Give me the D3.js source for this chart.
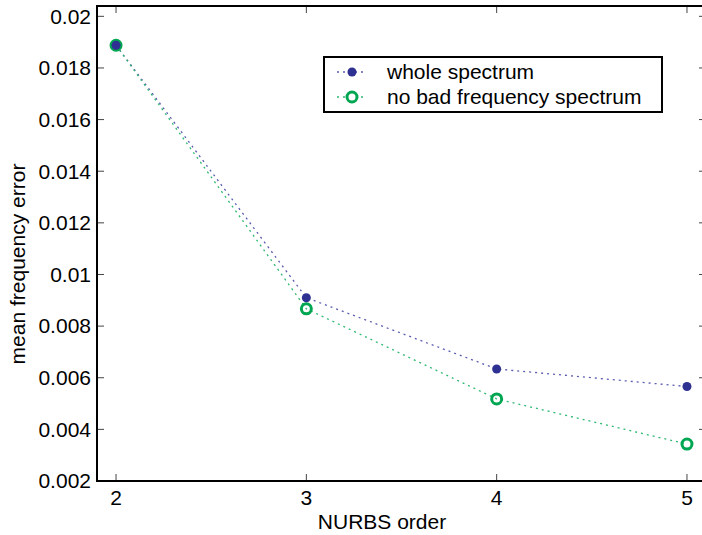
<!DOCTYPE html>
<meta charset="utf-8">
<style>
body { margin: 0; background: white; }
text { font-family: "Liberation Sans", Arial, Helvetica, sans-serif; fill: black; }
</style>
<body>
<script src="https://d3js.org/d3.v7.min.js"></script>
<script>

const width = 702
const height = 535

// chart values
const orders = [2, 3, 4, 5]
const wholeSpectrum = [0.01888, 0.00910, 0.00634, 0.00566]
const noBadSpectrum = [0.01888, 0.00867, 0.00518, 0.00343]
const yTicks = [0.002, 0.004, 0.006, 0.008, 0.01, 0.012, 0.014, 0.016, 0.018, 0.02]
const yTickLabels = ['0.002', '0.004', '0.006', '0.008', '0.01', '0.012', '0.014', '0.016', '0.018', '0.02']
const seriesNames = ['whole spectrum', 'no bad frequency spectrum']

const blue = '#2e3192'
const green = '#00a651'
const blueLine = '#5a5cb0'
const greenLine = '#2eb872'

const x = d3.scaleLinear().domain([1.9, 5.1]).range([97, 706])
const y = d3.scaleLinear().domain([0.002, 0.0204]).range([481, 6])

const svg = d3.select('body')
	.append('svg')
	.attr('width', width)
	.attr('height', height)

// inward ticks on all four sides
const tickLen = 7
const ticks = svg.append('g').attr('stroke', '#444').attr('stroke-width', 1)
yTicks.forEach(v => {
	ticks.append('line').attr('x1', x.range()[0]).attr('x2', x.range()[0] + tickLen).attr('y1', y(v)).attr('y2', y(v))
	ticks.append('line').attr('x1', x.range()[1]).attr('x2', x.range()[1] - tickLen).attr('y1', y(v)).attr('y2', y(v))
})
orders.forEach(v => {
	ticks.append('line').attr('x1', x(v)).attr('x2', x(v)).attr('y1', y.range()[0]).attr('y2', y.range()[0] - tickLen)
	ticks.append('line').attr('x1', x(v)).attr('x2', x(v)).attr('y1', y.range()[1]).attr('y2', y.range()[1] + tickLen)
})

// axis box
svg.append('rect')
	.attr('x', x.range()[0])
	.attr('y', y.range()[1])
	.attr('width', x.range()[1] - x.range()[0])
	.attr('height', y.range()[0] - y.range()[1])
	.attr('fill', 'none')
	.attr('stroke', 'black')
	.attr('stroke-width', 2)

// tick labels
svg.append('g').selectAll('text')
	.data(yTicks)
	.join('text')
	.attr('x', 91)
	.attr('y', d => y(d))
	.attr('dy', '0.35em')
	.attr('text-anchor', 'end')
	.attr('font-size', 21)
	.text((d, i) => yTickLabels[i])

svg.append('g').selectAll('text')
	.data(orders)
	.join('text')
	.attr('x', d => x(d))
	.attr('y', 505)
	.attr('text-anchor', 'middle')
	.attr('font-size', 21)
	.text(d => d)

// axis titles
svg.append('text')
	.attr('x', 382)
	.attr('y', 529)
	.attr('text-anchor', 'middle')
	.attr('font-size', 21)
	.text('NURBS order')

svg.append('text')
	.attr('transform', 'translate(25,264) rotate(-90)')
	.attr('text-anchor', 'middle')
	.attr('font-size', 21)
	.text('mean frequency error')

// series lines
const line = d3.line().x(d => x(d[0])).y(d => y(d[1]))
const wholePts = orders.map((o, i) => [o, wholeSpectrum[i]])
const noBadPts = orders.map((o, i) => [o, noBadSpectrum[i]])

svg.append('path')
	.attr('d', line(wholePts))
	.attr('fill', 'none')
	.attr('stroke', blueLine)
	.attr('stroke-width', 1.3)
	.attr('stroke-dasharray', '2,4')

svg.append('path')
	.attr('d', line(noBadPts))
	.attr('fill', 'none')
	.attr('stroke', greenLine)
	.attr('stroke-width', 1.3)
	.attr('stroke-dasharray', '2,4')

// markers: green rings under blue dots
svg.append('g').selectAll('circle')
	.data(noBadPts)
	.join('circle')
	.attr('cx', d => x(d[0]))
	.attr('cy', d => y(d[1]))
	.attr('r', 5)
	.attr('fill', 'none')
	.attr('stroke', green)
	.attr('stroke-width', 3)

svg.append('g').selectAll('circle')
	.data(wholePts)
	.join('circle')
	.attr('cx', d => x(d[0]))
	.attr('cy', d => y(d[1]))
	.attr('r', 4.5)
	.attr('fill', blue)

// legend
const legend = svg.append('g')
legend.append('rect')
	.attr('x', 324)
	.attr('y', 57)
	.attr('width', 338)
	.attr('height', 55)
	.attr('fill', 'white')
	.attr('stroke', 'black')
	.attr('stroke-width', 2)

seriesNames.forEach((name, i) => {
	const ly = 72 + i * 25
	legend.append('line')
		.attr('x1', 337).attr('x2', 367).attr('y1', ly).attr('y2', ly)
		.attr('stroke', i === 0 ? blueLine : greenLine)
		.attr('stroke-width', 1.3)
		.attr('stroke-dasharray', '2,4')
	if (i === 0) {
		legend.append('circle').attr('cx', 352).attr('cy', ly).attr('r', 4.5).attr('fill', blue)
	} else {
		legend.append('circle').attr('cx', 352).attr('cy', ly).attr('r', 5)
			.attr('fill', 'white').attr('stroke', green).attr('stroke-width', 3)
	}
	legend.append('text')
		.attr('x', 387)
		.attr('y', ly)
		.attr('dy', '0.35em')
		.attr('font-size', 21)
		.text(name)
})

</script>
</body>
</html>
